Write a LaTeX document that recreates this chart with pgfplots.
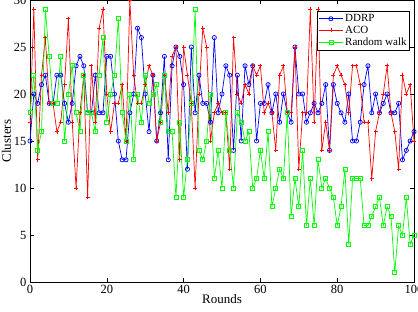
\documentclass[border=0pt]{standalone}
\usepackage{fontspec}
\setmainfont{Liberation Serif}
\usepackage{pgfplots}
\usepackage{pgfplotstable}
\pgfplotsset{compat=1.18}

% Number of clusters per round for the three protocols
\pgfplotstableread{
r   ddrp aco rw
0   15   17  18
1   20   29  22
2   19   13  14
3   21   22  16
4   22   26  29
5   19   19  24
6   19   19  19
7   22   16  19
8   22   17  24
9   19   21  15
10  17   28  20
11  19   17  23
12  23   10  18
13  24   18  16
14  23   22  22
15  18   9   18
16  18   23  18
17  22   17  16
18  18   27  22
19  18   29  26
20  24   20  17
21  24   16  20
22  20   19  22
23  15   19  28
24  13   21  18
25  13   15  15
26  18   30  20
27  20   22  13
28  27   19  20
29  26   19  17
30  20   21  22
31  16   23  19
32  22   22  20
33  15   15  21
34  18   17  17
35  24   22  22
36  13   18  16
37  23   24  16
38  25   25  9
39  24   13  17
40  21   25  9
41  12   22  13
42  25   19  19
43  18   10  29
44  22   20  14
45  19   27  13
46  19   25  15
47  17   15  20
48  26   18  11
49  18   19  14
50  20   18  10
51  23   18  18
52  22   12  14
53  14   26  10
54  22   20  18
55  15   19  17
56  23   21  15
57  21   20  16
58  23   23  10
59  15   22  11
60  19   23  14
61  19   18  11
62  21   19  16
63  18   18  8
64  20   14  10
65  17   22  12
66  20   23  11
67  18   18  18
68  17   18  7
69  25   25  11
70  20   12  8
71  20   18  14
72  17   18  6
73  18   29  11
74  19   17  6
75  18   29  13
76  19   14  10
77  21   17  11
78  14   14  10
79  21   22  9
80  19   23  6
81  18   22  8
82  17   21  12
83  20   18  4
84  15   23  11
85  15   23  11
86  17   21  11
87  21   17  6
88  23   17  6
89  18   11  7
90  20   16  8
91  18   18  9
92  19   20  6
93  20   23  8
94  18   18  7
95  18   16  1
96  19   12  6
97  13   22  5
98  14   20  9
99  15   21  4
100 16   15  5
}\clusters

\begin{document}
\begin{tikzpicture}
\begin{axis}[
  scale only axis,
  width=384pt, height=282pt,
  xmin=0, xmax=100, ymin=0, ymax=30,
  xtick={0,20,...,100}, ytick={0,5,...,30},
  tick align=inside, xtick pos=both, ytick pos=both,
  major tick length=4pt,
  axis line style={line width=0.8pt},
  every tick/.style={black, line width=0.6pt},
  /pgf/number format/assume math mode=true,
  tick label style={font=\fontsize{12.5}{14}\selectfont},
  label style={font=\fontsize{13}{15}\selectfont},
  xlabel={Rounds}, ylabel={Clusters},
  xlabel style={yshift=6pt},
  ylabel style={yshift=-4pt},
  legend style={at={(1,1)}, anchor=north east, xshift=-4pt, yshift=-11pt,
    font=\fontsize{11}{12}\selectfont, draw=black, line width=0.8pt,
    inner sep=1pt, row sep=-1pt},
  legend cell align=left,
  legend image code/.code={%
    \draw[mark repeat=2, mark phase=2, line width=0.7pt]
      plot coordinates {(0cm,0cm) (0.42cm,0cm) (0.84cm,0cm)};},
]
\addplot[blue, line width=0.7pt, mark=o, mark size=2.1pt] table[x=r, y=ddrp] {\clusters};
\addlegendentry{DDRP}
\addplot[red, line width=0.7pt, mark=+, mark size=2pt] table[x=r, y=aco] {\clusters};
\addlegendentry{ACO}
\addplot[green, line width=0.7pt, mark=square, mark size=2pt] table[x=r, y=rw] {\clusters};
\addlegendentry{Random walk}
\end{axis}
\pgfresetboundingbox
\path[use as bounding box]
  ([shift={(-30pt,-30pt)}]current axis.south west)
  rectangle ([shift={(4pt,0pt)}]current axis.north east);
\end{tikzpicture}
\end{document}
